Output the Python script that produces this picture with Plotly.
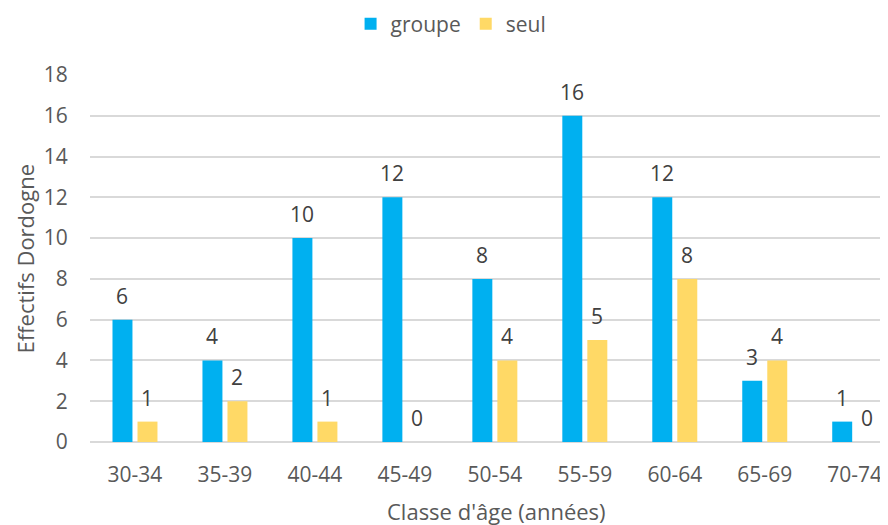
import plotly.graph_objects as go

categories = ["30-34", "35-39", "40-44", "45-49", "50-54", "55-59", "60-64", "65-69", "70-74"]
groupe = [6, 4, 10, 12, 8, 16, 12, 3, 1]
seul = [1, 2, 1, 0, 4, 5, 8, 4, 0]
y_ticks = [0, 2, 4, 6, 8, 10, 12, 14, 16, 18]

BLUE = "#00B0F0"
YELLOW = "#FFD966"
FONT = "Open Sans, Lato, sans-serif"
BW = 0.222

fig = go.Figure()
fig.add_trace(go.Bar(x=list(range(len(categories))), y=groupe, name="groupe",
                     marker=dict(color=BLUE, line=dict(width=0)),
                     width=BW, offset=-0.25))
fig.add_trace(go.Bar(x=list(range(len(categories))), y=seul, name="seul",
                     marker=dict(color=YELLOW, line=dict(width=0)),
                     width=BW, offset=0.028))

annotations = []
for i, (g, s) in enumerate(zip(groupe, seul)):
    annotations.append(dict(x=i - 0.139, y=g, text=str(g), showarrow=False,
                            yanchor="middle", yshift=24,
                            font=dict(family=FONT, size=21, color="#404040")))
    annotations.append(dict(x=i + 0.139, y=s, text=str(s), showarrow=False,
                            yanchor="middle", yshift=24,
                            font=dict(family=FONT, size=21, color="#404040")))

# axis titles
annotations.append(dict(xref="paper", yref="paper", x=0, y=0.5, xanchor="center", yanchor="middle",
                        xshift=-66, textangle=-90, showarrow=False, text="Effectifs Dordogne",
                        borderpad=0,
                        font=dict(family=FONT, size=22, color="#595959")))
annotations.append(dict(xref="paper", yref="paper", x=0.5, y=0, xanchor="center", yanchor="middle",
                        xshift=7, yshift=-69, showarrow=False, text="Classe d'âge (années)",
                        borderpad=0,
                        font=dict(family=FONT, size=22, color="#595959")))

fig.update_layout(
    width=880, height=517,
    margin=dict(l=82, r=0, t=67, b=83, autoexpand=False),
    paper_bgcolor="white", plot_bgcolor="white",
    barmode="overlay",
    font=dict(family=FONT, size=21, color="#595959"),
    legend=dict(orientation="h", xref="container", x=0.5035, xanchor="center",
                y=1.139, yanchor="middle",
                font=dict(family=FONT, size=21, color="#595959"),
                itemwidth=30, traceorder="normal"),
    annotations=annotations,
    xaxis=dict(
        tickmode="array", tickvals=list(range(len(categories))), ticktext=categories,
        range=[-0.5, 8.37], showgrid=False, zeroline=False, automargin=False,
        showline=False, ticks="outside", ticklen=14, tickcolor="rgba(0,0,0,0)",
        tickfont=dict(family=FONT, size=21, color="#595959"),
        fixedrange=True,
    ),
    yaxis=dict(
        range=[0, 18], tickvals=y_ticks, showgrid=True, gridcolor="#D9D9D9", gridwidth=1.5,
        zeroline=True, zerolinecolor="#D9D9D9", zerolinewidth=1.5, automargin=False,
        showline=False, ticks="outside", ticklen=17, tickcolor="rgba(0,0,0,0)",
        tickfont=dict(family=FONT, size=21, color="#595959"),
        fixedrange=True,
    ),
)

fig.write_html("out.html")
